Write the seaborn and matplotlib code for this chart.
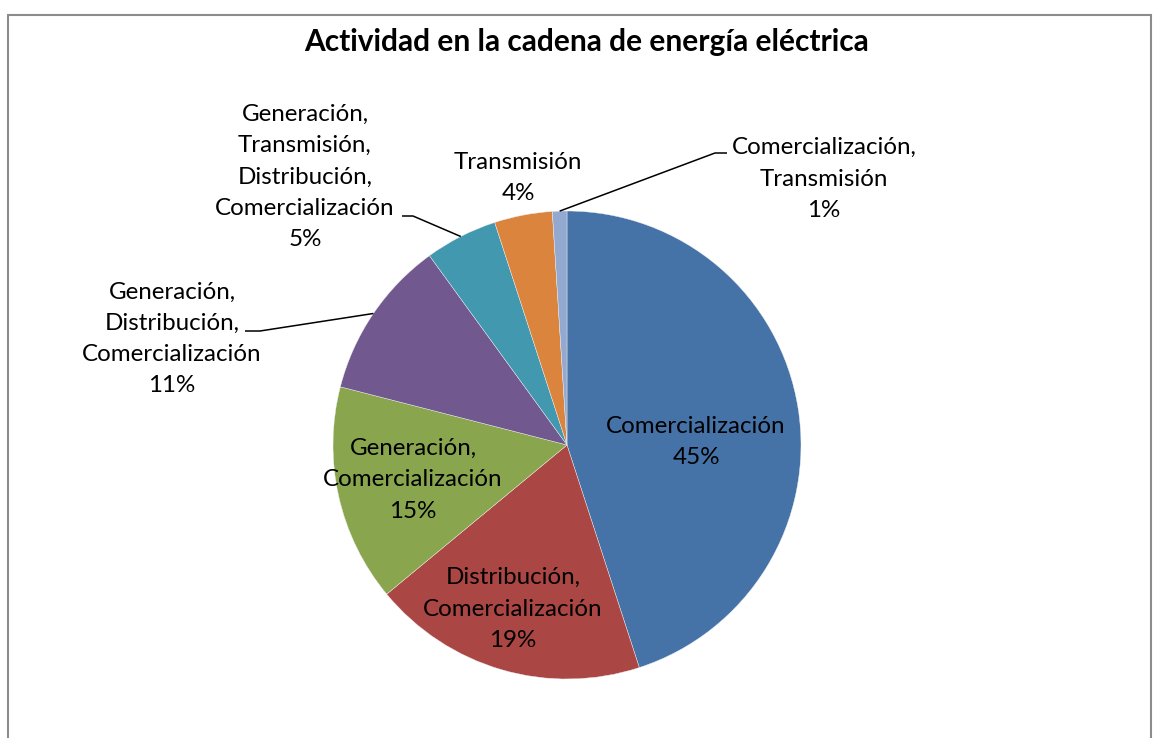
import numpy as np
import matplotlib.pyplot as plt
import seaborn as sns
from matplotlib.patches import Rectangle

# Data
categories = [
    "Comercialización",
    "Distribución,\nComercialización",
    "Generación,\nComercialización",
    "Generación,\nDistribución,\nComercialización",
    "Generación,\nTransmisión,\nDistribución,\nComercialización",
    "Transmisión",
    "Comercialización,\nTransmisión",
]
percentages = [45, 19, 15, 11, 5, 4, 1]
colors_hex = ["#4572A7", "#AA4643", "#89A54E", "#71588F", "#4198AF", "#DB843D", "#93A9CF"]

sns.set_theme(style="white")
plt.rcParams['font.family'] = ['Lato', 'DejaVu Sans']
palette = sns.color_palette(colors_hex)

W, H = 1154, 738
fig = plt.figure(figsize=(W / 100, H / 100), dpi=100)
ax = fig.add_axes([0, 0, 1, 1])

# pie geometry (pixels, y up)
cx, cy, R = 567, H - 445, 234

wedges, _ = ax.pie(percentages, colors=palette, startangle=90, counterclock=False,
                   center=(cx, cy), radius=R, frame=True,
                   wedgeprops=dict(edgecolor="#f0f0f0", linewidth=0.3))
ax.set_xlim(0, W)
ax.set_ylim(0, H)
ax.set_aspect("equal")
ax.axis("off")

# label block centers relative to pie centre (pixels), and leader elbows
label_offsets = [(129, 3), (-54, -164), (-154, -35), (-395, 106), (-262, 268), (-49, 267), (257, 266)]
leaders = {3: (260 - cx, 445 - 331, -15), 4: (413 - cx, 445 - 216, -11), 6: (715 - cx, 445 - 153, 12)}

for i, (w, lab, pct) in enumerate(zip(wedges, categories, percentages)):
    dx, dy = label_offsets[i]
    ax.text(cx + dx, cy + dy, f"{lab}\n{pct}%", ha="center", va="center",
            fontsize=17.4, color="black", linespacing=1.6)
    if i in leaders:
        mid = np.deg2rad((w.theta1 + w.theta2) / 2)
        px, py = cx + R * np.cos(mid), cy + R * np.sin(mid)
        ex, ey, hlen = leaders[i]
        ax.plot([px, cx + ex, cx + ex + hlen], [py, cy + ey, cy + ey],
                color="black", lw=1.1, solid_capstyle="butt")

ax.text(587, H - 42, "Actividad en la cadena de energía eléctrica", ha="center", va="center",
        fontsize=21.5, fontweight="bold", color="black")

# chart frame
fig.patches.append(Rectangle((8 / W, -10 / H), (1151 - 8) / W, (H - 15 + 10) / H,
                             transform=fig.transFigure, fill=False,
                             edgecolor="#8c8c8c", linewidth=1.5))

fig.savefig("out.png", dpi=100)
